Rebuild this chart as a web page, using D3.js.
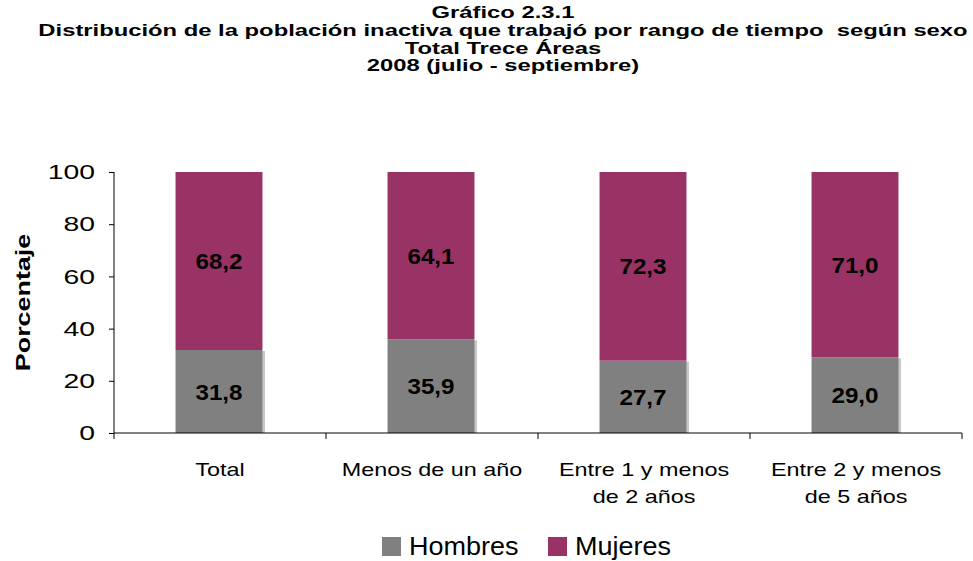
<!DOCTYPE html>
<html lang="es">
<head>
<meta charset="utf-8">
<title>Gráfico 2.3.1</title>
<script src="https://cdn.jsdelivr.net/npm/d3@7"></script>
<style>
  body { margin: 0; background: #fff; font-family: "Liberation Sans", Arial, sans-serif; }
  .title { font-weight: bold; font-size: 17px; }
  .axis text { font-size: 21px; fill: #000; }
  .axis path, .axis line { stroke: #000; }
</style>
</head>
<body>
<script>
var w = 973, h = 561;

// datos
var categories = ["Total", "Menos de un año", "Entre 1 y menos|de 2 años", "Entre 2 y menos|de 5 años"];
var hombres = [31.8, 35.9, 27.7, 29.0];
var mujeres = [68.2, 64.1, 72.3, 71.0];
var yTicks = [0, 20, 40, 60, 80, 100];
var series = ["Hombres", "Mujeres"];
var colours = {Hombres: "#808080", Mujeres: "#993366"};
var titleLines = ["Gráfico 2.3.1",
  "Distribución de la población inactiva que trabajó por rango de tiempo\u00a0 según sexo",
  "Total Trece Áreas",
  "2008 (julio - septiembre)"];

// the original text is wider than Arial, stretch it sideways
var sx = 1.3;

var mLeft = 114, mRight = 962, mTop = 172, mBottom = 433;

var svg = d3.select("body").append("svg")
  .attr("width", w).attr("height", h);

svg.selectAll(".title")
  .data(titleLines)
  .enter().append("text")
  .attr("class", "title")
  .attr("transform", function(d, i) { return "translate(503," + (18 + i * 17.8) + ") scale(1.4,1)"; })
  .attr("text-anchor", "middle")
  .text(function(d) { return d; });

var x = d3.scaleBand().domain(categories).range([mLeft, mRight]).paddingInner(0).paddingOuter(0);
var y = d3.scaleLinear().domain([0, 100]).range([mBottom, mTop]);

var barW = x.bandwidth() * 0.41;

var rows = categories.map(function(c, i) {
  return {cat: c, Hombres: hombres[i], Mujeres: mujeres[i]};
});
var stacked = d3.stack().keys(series)(rows);

// sombra de la barra gris
svg.append("g").selectAll("rect")
  .data(rows)
  .enter().append("rect")
  .attr("x", function(d) { return x(d.cat) + (x.bandwidth() - barW) / 2 + 1.5; })
  .attr("y", function(d) { return y(d.Hombres) + 1; })
  .attr("width", barW)
  .attr("height", function(d) { return mBottom - y(d.Hombres) - 1; })
  .style("fill", "#c8c8c8");

var layer = svg.selectAll(".layer")
  .data(stacked)
  .enter().append("g")
  .attr("class", "layer")
  .style("fill", function(d) { return colours[d.key]; });

layer.selectAll("rect")
  .data(function(d) { return d; })
  .enter().append("rect")
  .attr("x", function(d) { return x(d.data.cat) + (x.bandwidth() - barW) / 2 - 1; })
  .attr("y", function(d) { return y(d[1]); })
  .attr("width", barW)
  .attr("height", function(d) { return y(d[0]) - y(d[1]); });

layer.selectAll("text")
  .data(function(d) { return d; })
  .enter().append("text")
  .attr("transform", function(d) {
    return "translate(" + (x(d.data.cat) + x.bandwidth() / 2 - 1) + "," + ((y(d[0]) + y(d[1])) / 2 + 8) + ") scale(1.1,1)";
  })
  .attr("text-anchor", "middle")
  .style("fill", "#000")
  .style("font-weight", "bold")
  .style("font-size", "22px")
  .text(function(d) { return (d[1] - d[0]).toFixed(1).replace(".", ","); });

// ejes
var yAxis = d3.axisLeft(y).tickValues(yTicks).tickSize(5).tickPadding(20);
svg.append("g").attr("class", "axis")
  .attr("transform", "translate(" + mLeft + ",0)")
  .call(yAxis)
  .call(function(g) { g.select(".domain").attr("d", "M0," + mTop + "V" + mBottom); })
  .call(function(g) {
    g.selectAll(".tick text")
      .attr("x", 0)
      .attr("transform", "translate(-19,0) scale(1.35,1)");
  });

var xg = svg.append("g").attr("class", "axis")
  .attr("transform", "translate(0," + mBottom + ")");
xg.append("line").attr("x1", mLeft).attr("x2", mRight).attr("y1", 0).attr("y2", 0)
  .style("stroke", "#000");
xg.selectAll(".tk")
  .data(categories.concat([null]))
  .enter().append("line")
  .attr("x1", function(d) { return d === null ? mRight : x(d); })
  .attr("x2", function(d) { return d === null ? mRight : x(d); })
  .attr("y1", 0).attr("y2", 6)
  .style("stroke", "#000");

var lbl = xg.selectAll(".lbl")
  .data(categories)
  .enter().append("text")
  .attr("transform", function(d) { return "translate(" + (x(d) + x.bandwidth() / 2) + ",43) scale(" + sx + ",1)"; })
  .attr("text-anchor", "middle")
  .style("font-size", "18px");
lbl.selectAll("tspan")
  .data(function(d) { return d.split("|"); })
  .enter().append("tspan")
  .attr("x", 0)
  .attr("dy", function(d, i) { return i ? 27 : 0; })
  .text(function(d) { return d; });

svg.append("text")
  .attr("transform", "translate(30," + (mTop + mBottom) / 2 + ") rotate(-90) scale(1.28,1)")
  .attr("text-anchor", "middle")
  .style("font-weight", "bold")
  .style("font-size", "21px")
  .text("Porcentaje");

// leyenda
var legendX = [382, 548];
var lg = svg.selectAll(".lg")
  .data(series)
  .enter().append("g")
  .attr("transform", function(d, i) { return "translate(" + legendX[i] + ",537)"; });
lg.append("rect")
  .attr("width", 19).attr("height", 19)
  .style("fill", function(d) { return colours[d]; });
lg.append("text")
  .attr("transform", "translate(27,18) scale(1.08,1)")
  .style("font-size", "25px")
  .text(function(d) { return d; });
</script>
</body>
</html>
